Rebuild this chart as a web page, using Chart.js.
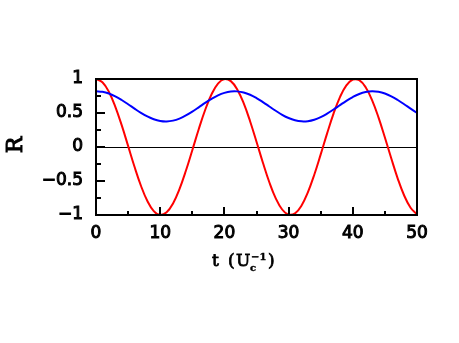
<!DOCTYPE html>
<html>
<head>
<meta charset="utf-8">
<script src="https://cdn.jsdelivr.net/npm/chart.js@4.4.1/dist/chart.umd.min.js"></script>
<style>
  html, body { margin: 0; padding: 0; background: #fff; }
</style>
</head>
<body>
<canvas id="chart" width="459" height="343"></canvas>
<script>
"use strict";

// ── Data ──
const tValues = [
   0,  1,  2,  3,  4,  5,  6,  7,  8,  9,
  10, 11, 12, 13, 14, 15, 16, 17, 18, 19,
  20, 21, 22, 23, 24, 25, 26, 27, 28, 29,
  30, 31, 32, 33, 34, 35, 36, 37, 38, 39,
  40, 41, 42, 43, 44, 45, 46, 47, 48, 49,
  50,
];

const redR = [
   1.000,  0.952,  0.813,  0.595,  0.321,  0.016, -0.291, -0.570, -0.794, -0.942,
  -1.000, -0.961, -0.830, -0.620, -0.350, -0.047,  0.261,  0.544,  0.775,  0.931,
   0.998,  0.969,  0.847,  0.644,  0.379,  0.078, -0.231, -0.518, -0.755, -0.919,
  -0.996, -0.976, -0.863, -0.667, -0.408, -0.109,  0.201,  0.491,  0.734,  0.907,
   0.992,  0.983,  0.879,  0.690,  0.436,  0.140, -0.170, -0.464, -0.713, -0.893,
  -0.990,
];

const blueR = [
  0.820, 0.812, 0.787, 0.745, 0.691, 0.629, 0.564, 0.502, 0.449, 0.408,
  0.383, 0.376, 0.388, 0.418, 0.464, 0.520, 0.583, 0.648, 0.708, 0.759,
  0.796, 0.817, 0.818, 0.802, 0.768, 0.719, 0.660, 0.596, 0.533, 0.474,
  0.426, 0.393, 0.377, 0.380, 0.401, 0.439, 0.491, 0.551, 0.616, 0.679,
  0.735, 0.780, 0.809, 0.820, 0.812, 0.787, 0.745, 0.691, 0.629, 0.564,
  0.502,
];

const xTickLabels = [0, 10, 20, 30, 40, 50];
const yTickLabels = [-1, -0.5, 0, 0.5, 1];

// ── Layout ──
const AREA = { left: 96, top: 79, right: 417, bottom: 215 };
const W = 459, H = 343;
const TICK_FONT  = { family: "'DejaVu Sans', sans-serif", size: 17 };
const TITLE_FONT = "'DejaVu Serif', serif";

const near = (a, b) => Math.abs(a - b) < 1e-6;
const fmtY = v => v === 0 ? "0" : (v < 0 ? "\u2212" : "") + Math.abs(v);

// text drawn with a thin outline so it reads as heavy as the original
function heavyText(ctx, str, x, y, w = 0.8) {
  ctx.lineWidth = w;
  ctx.strokeText(str, x, y);
  ctx.fillText(str, x, y);
}

// ── Frame, inward ticks, zero line and axis titles ──
const framePlugin = {
  id: "frame",
  beforeDatasetsDraw(chart) {
    const { ctx, chartArea: a, scales } = chart;
    const y0 = Math.round(scales.y.getPixelForValue(0)) + 0.5;
    ctx.save();
    ctx.strokeStyle = "#000";
    ctx.lineWidth = 1;
    ctx.beginPath();
    ctx.moveTo(a.left, y0);
    ctx.lineTo(a.right, y0);
    ctx.stroke();
    ctx.restore();
  },
  afterDraw(chart) {
    const { ctx, chartArea: a, scales } = chart;
    ctx.save();
    ctx.strokeStyle = "#000";
    ctx.lineWidth = 2;

    ctx.beginPath();
    scales.x.ticks.forEach(t => {
      const px = Math.round(scales.x.getPixelForValue(t.value));
      const len = xTickLabels.some(v => near(v, t.value)) ? 8 : 4;
      ctx.moveTo(px, a.bottom);
      ctx.lineTo(px, a.bottom - len);
    });
    scales.y.ticks.forEach(t => {
      const py = Math.round(scales.y.getPixelForValue(t.value));
      const len = yTickLabels.some(v => near(v, t.value)) ? 9 : 5;
      ctx.moveTo(a.left, py);
      ctx.lineTo(a.left + len, py);
    });
    ctx.stroke();

    ctx.strokeRect(a.left, a.top, a.right - a.left, a.bottom - a.top);

    // x title: t (U_c^-1)
    ctx.fillStyle = "#000";
    ctx.textBaseline = "alphabetic";
    ctx.textAlign = "left";
    const base = 266;
    ctx.font = `17px ${TITLE_FONT}`;
    heavyText(ctx, "t", 212, base);
    heavyText(ctx, "(", 228, base);
    heavyText(ctx, "U", 236, base);
    ctx.font = `bold 10px ${TITLE_FONT}`;
    heavyText(ctx, "c", 250, base + 5, 0.4);
    heavyText(ctx, "\u22121", 251, base - 6, 0.4);
    ctx.font = `17px ${TITLE_FONT}`;
    heavyText(ctx, ")", 268, base);

    // y title: R
    ctx.translate(16, 145);
    ctx.rotate(-Math.PI / 2);
    ctx.textAlign = "center";
    ctx.textBaseline = "middle";
    ctx.font = `22px ${TITLE_FONT}`;
    heavyText(ctx, "R", 0, 0, 1);
    ctx.restore();
  },
};

// ── Chart ──
const ctx = document.getElementById("chart").getContext("2d");
new Chart(ctx, {
  type: "line",
  data: {
    datasets: [
      {
        data: tValues.map((t, i) => ({ x: t, y: blueR[i] })),
        borderColor: "#0000ff",
        borderWidth: 2,
        pointRadius: 0,
        tension: 0.4,
        fill: false,
      },
      {
        data: tValues.map((t, i) => ({ x: t, y: redR[i] })),
        borderColor: "#ff0000",
        borderWidth: 2,
        pointRadius: 0,
        tension: 0.4,
        fill: false,
      },
    ],
  },
  options: {
    responsive: false,
    animation: false,
    devicePixelRatio: 1,
    layout: { padding: { left: 0, top: AREA.top, right: W - AREA.right, bottom: 0 } },
    plugins: { legend: { display: false }, tooltip: { enabled: false } },
    scales: {
      x: {
        type: "linear",
        min: 0,
        max: 50,
        grid: { display: false, drawTicks: false },
        border: { display: false },
        ticks: {
          stepSize: 5,
          autoSkip: false,
          maxRotation: 0,
          padding: 8,
          color: "#000",
          textStrokeColor: "#000",
          textStrokeWidth: 1,
          font: TICK_FONT,
          callback: v => xTickLabels.some(l => near(l, v)) ? String(v) : "",
        },
        afterFit: s => { s.height = H - AREA.bottom; },
      },
      y: {
        min: -1,
        max: 1,
        grid: { display: false, drawTicks: false },
        border: { display: false },
        ticks: {
          stepSize: 0.25,
          autoSkip: false,
          padding: 13,
          color: "#000",
          textStrokeColor: "#000",
          textStrokeWidth: 1,
          font: TICK_FONT,
          callback: v => yTickLabels.some(l => near(l, v)) ? fmtY(v) : "",
        },
        afterFit: s => { s.width = AREA.left; },
      },
    },
  },
  plugins: [framePlugin],
});
</script>
</body>
</html>
